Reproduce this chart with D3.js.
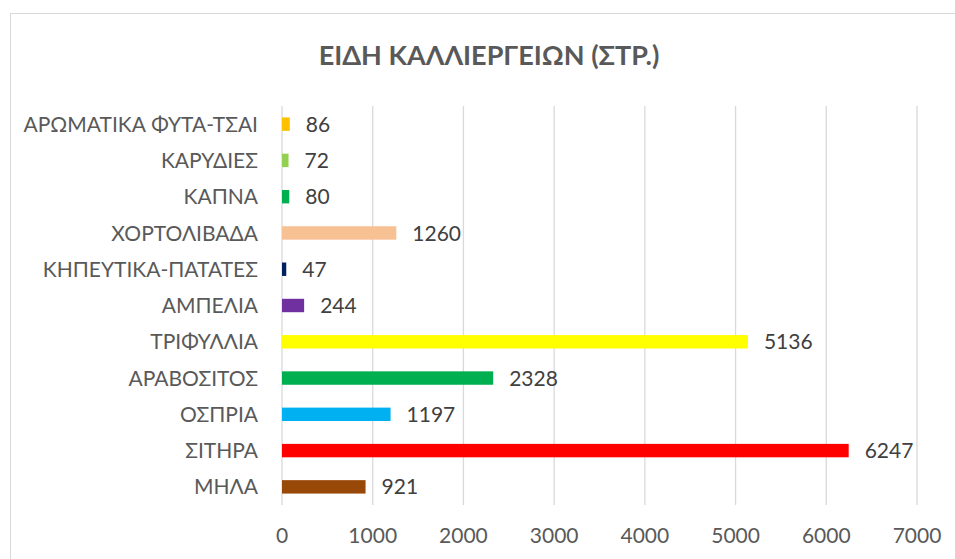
<!DOCTYPE html>
<html>
<head>
<meta charset="utf-8">
<script src="https://cdn.jsdelivr.net/npm/d3@7"></script>
<style>
body{margin:0;background:#fff}
text{font-family:Lato,"Open Sans",sans-serif}
</style>
</head>
<body>
<div id="chart"></div>
<script>
const categories=["ΑΡΩΜΑΤΙΚΑ ΦΥΤΑ-ΤΣΑΙ","ΚΑΡΥΔΙΕΣ","ΚΑΠΝΑ","ΧΟΡΤΟΛΙΒΑΔΑ","ΚΗΠΕΥΤΙΚΑ-ΠΑΤΑΤΕΣ","ΑΜΠΕΛΙΑ","ΤΡΙΦΥΛΛΙΑ","ΑΡΑΒΟΣΙΤΟΣ","ΟΣΠΡΙΑ","ΣΙΤΗΡΑ","ΜΗΛΑ"]
const values=[86,72,80,1260,47,244,5136,2328,1197,6247,921]
const colors=["#FFC000","#92D050","#00B050","#F8C193","#002060","#7030A0","#FFFF00","#00B050","#00B0F0","#FF0000","#984807"]
const ticks=[0,1000,2000,3000,4000,5000,6000,7000]

const width=955
const height=559

const svg=d3.select("#chart")
.append("svg")
.attr("width",width)
.attr("height",height)

// chart frame
svg.append("rect")
.attr("x",10.5)
.attr("y",13.5)
.attr("width",960)
.attr("height",560)
.attr("fill","#fff")
.attr("stroke","#d9d9d9")

const x=d3.scaleLinear().domain([0,7000]).range([282,917])
const y=d3.scaleBand().domain(categories).range([106,505]).paddingInner(0.63).paddingOuter(0.315)

svg.selectAll(".grid")
.data(ticks)
.enter()
.append("line")
.attr("x1",d=>x(d))
.attr("x2",d=>x(d))
.attr("y1",106)
.attr("y2",505)
.attr("stroke","#d9d9d9")
.attr("stroke-width",1.3)

svg.selectAll(".tick")
.data(ticks)
.enter()
.append("text")
.attr("x",d=>x(d))
.attr("y",543)
.attr("text-anchor","middle")
.attr("fill","#595959")
.style("font-size","21px")
.text(d=>d)

svg.selectAll(".bar")
.data(values)
.enter()
.append("rect")
.attr("x",x(0))
.attr("y",(d,i)=>y(categories[i]))
.attr("width",d=>x(d)-x(0))
.attr("height",y.bandwidth())
.attr("fill",(d,i)=>colors[i])

svg.selectAll(".val")
.data(values)
.enter()
.append("text")
.attr("x",d=>x(d)+16)
.attr("y",(d,i)=>y(categories[i])+y.bandwidth()/2)
.attr("dy","0.36em")
.attr("fill","#404040")
.style("font-size","21px")
.text(d=>d)

svg.selectAll(".cat")
.data(categories)
.enter()
.append("text")
.attr("x",258)
.attr("y",d=>y(d)+y.bandwidth()/2)
.attr("dy","0.36em")
.attr("text-anchor","end")
.attr("fill","#595959")
.style("font-size","21px")
.text(d=>d)

svg.append("text")
.attr("x",489)
.attr("y",65)
.attr("text-anchor","middle")
.attr("fill","#595959")
.style("font-size","27px")
.style("font-weight","bold")
.text("ΕΙΔΗ ΚΑΛΛΙΕΡΓΕΙΩΝ (ΣΤΡ.)")
</script>
</body>
</html>
